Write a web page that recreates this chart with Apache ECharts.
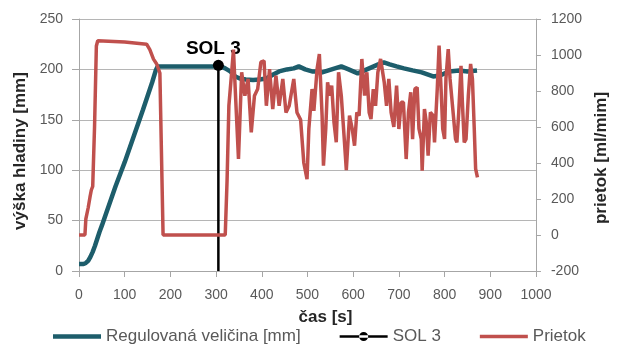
<!DOCTYPE html>
<html>
<head>
<meta charset="utf-8">
<script src="https://cdn.jsdelivr.net/npm/echarts@6/dist/echarts.min.js"></script>
<style>html,body{margin:0;padding:0;background:#fff}#c{width:618px;height:349px}</style>
</head>
<body>
<div id="c"></div>
<script>
// Regulovaná veličina [mm] – time [s] and level values
const levelTime = [0,10,15,20,25,30,35,40,45,50,60,80,100,120,140,160,168,172,200,250,300,310,320,331,342,352,365,381,395,410,425,438,455,470,481,495,510,517,532,546,560,574,590,610,625,640,655,667,680,695,711,730,750,775,790,810,832,850,871];
const levelValue = [7,7,8,10,14,19,25,32,39,45,58,84,108,134,160,187,199,203,203,203,203,203,201,198,193,191,190,189.5,190,191,195,198,200,201,203,200,198,198,197,199,201,203,200,196,199,202,205,207,205,203,201,199,197,193,194,198,199,198,199];

// Prietok [ml/min] – time [s] and flow values
const flowTime = [0,13,15,20,24,27,30,34,38,41,100,148,155,163,170,174,177,184,250,320,324,328,334,338,343,349,353,356,363,370,377,384,391,398,405,410,417,424,431,438,446,453,460,470,477,485,492,499,503,510,514,521,526,532,535,540,544,549,553,558,563,568,574,580,585,592,598,603,608,613,619,625,630,635,639,644,649,654,660,668,673,678,683,689,695,700,705,710,716,721,726,730,735,740,744,749,751,756,760,764,769,775,778,784,788,793,796,800,803,808,812,818,824,827,831,836,839,843,847,852,857,861,865,868,872];
const flowValue = [0,0,90,150,210,250,270,600,1050,1079,1072,1060,1030,977,950,940,900,0,0,0,300,718,900,1030,750,422,700,904,774,867,570,774,811,960,968,718,922,700,885,718,867,680,718,867,681,640,400,310,589,811,690,922,1005,663,385,589,848,774,830,626,515,904,774,552,360,663,589,496,681,663,978,774,904,681,644,811,718,904,978,848,718,867,681,600,830,589,737,737,422,681,793,533,811,820,589,533,357,700,626,441,681,663,515,811,1052,774,589,533,867,1033,867,700,533,515,681,940,737,515,533,774,950,867,589,367,320];

// SOL 3 marker
const solTime = [305,305];
const solValue = [0,204];

const xTicks = {min:0,max:1000,interval:100};
const yLeftTicks = {min:0,max:250,interval:50};
const yRightTicks = {min:-200,max:1200,interval:200};

const names = ['Regulovaná veličina [mm]','SOL 3','Prietok'];

const pair = (xs, ys) => xs.map((x,i)=>[x, ys[i]]);

const FONT = '"Liberation Sans", Arial, sans-serif';
const GRAY = '#595959';
const AX = '#a6a6a6';
const BLUE = '#1d5d6b';
const RED = '#c0504d';

// legend icons: invisible corner points fix the box to 48x12 so line thickness is kept
const box = 'M0,0 L0.01,0 L0,0.01 Z M48,12 L47.99,12 L48,11.99 Z ';
const lineIcon = (h) => 'path://' + box + `M0,${6-h/2} L48,${6-h/2} L48,${6+h/2} L0,${6+h/2} Z`;
const solIcon = 'path://' + box + 'M0,4.8 L48,4.8 L48,7.2 L0,7.2 Z M19.5,6 A4.5,4.5 0 1,0 28.5,6 A4.5,4.5 0 1,0 19.5,6 Z';

const plain = v => String(v);

const chart = echarts.init(document.getElementById('c'), null, {renderer:'canvas'});
chart.setOption({
  animation:false,
  textStyle:{fontFamily:FONT},
  grid:{left:79,right:73,top:19,bottom:78,containLabel:false},
  legend:{
    top:328,left:53,itemWidth:48,itemHeight:12,itemGap:39,padding:[0,0,0,0],
    textStyle:{fontFamily:FONT,fontSize:17,color:GRAY},
    data:[
      {name:names[0],icon:lineIcon(4.5),itemStyle:{color:BLUE}},
      {name:names[1],icon:solIcon,itemStyle:{color:'#000'}},
      {name:names[2],icon:lineIcon(3.5),itemStyle:{color:RED}}
    ]
  },
  xAxis:{
    type:'value',min:xTicks.min,max:xTicks.max,interval:xTicks.interval,
    name:'čas [s]',nameLocation:'middle',nameGap:38,
    nameTextStyle:{fontFamily:FONT,fontSize:17,fontWeight:'bold',color:'#262626',padding:[0,0,0,36]},
    axisLine:{lineStyle:{color:AX}},
    axisTick:{show:true,length:6,lineStyle:{color:AX}},
    axisLabel:{fontFamily:FONT,fontSize:14,color:GRAY,margin:17,formatter:plain},
    splitLine:{show:false}
  },
  yAxis:[{
    type:'value',min:yLeftTicks.min,max:yLeftTicks.max,interval:yLeftTicks.interval,
    name:'výška hladiny [mm]',nameLocation:'middle',nameGap:47,
    nameTextStyle:{fontFamily:FONT,fontSize:17,fontWeight:'bold',color:'#262626',padding:[0,12,0,0]},
    axisLine:{show:true,lineStyle:{color:AX}},
    axisTick:{show:true,length:7,lineStyle:{color:AX}},
    axisLabel:{fontFamily:FONT,fontSize:14,color:GRAY,margin:16,formatter:plain},
    splitLine:{show:true,lineStyle:{color:'#b5b5b5',width:1}}
  },{
    type:'value',min:yRightTicks.min,max:yRightTicks.max,interval:yRightTicks.interval,
    name:'prietok [ml/mim]',nameLocation:'middle',nameGap:50,
    nameTextStyle:{fontFamily:FONT,fontSize:17,fontWeight:'bold',color:'#262626',padding:[0,26,0,0]},
    axisLine:{show:true,lineStyle:{color:AX}},
    axisTick:{show:true,length:5,lineStyle:{color:AX}},
    axisLabel:{fontFamily:FONT,fontSize:14,color:GRAY,margin:15,formatter:plain},
    splitLine:{show:false}
  }],
  series:[{
    name:names[0],type:'line',yAxisIndex:0,symbol:'none',
    data:pair(levelTime,levelValue),
    lineStyle:{color:BLUE,width:4.5},itemStyle:{color:BLUE},
    z:2
  },{
    name:names[1],type:'line',yAxisIndex:0,symbol:'circle',symbolSize:11,
    data:pair(solTime,solValue).map((p,i)=> i===0 ? {value:p,symbol:'none'} :
      {value:p,label:{show:true,position:'top',formatter:'SOL 3',offset:[-5,3],
        fontFamily:FONT,fontSize:19,fontWeight:'bold',color:'#000'}}),
    lineStyle:{color:'#000',width:2.5},itemStyle:{color:'#000'},
    z:3
  },{
    name:names[2],type:'line',yAxisIndex:1,symbol:'none',
    data:pair(flowTime,flowValue),
    lineStyle:{color:RED,width:3.5},itemStyle:{color:RED},
    z:4
  }]
});
</script>
</body>
</html>
